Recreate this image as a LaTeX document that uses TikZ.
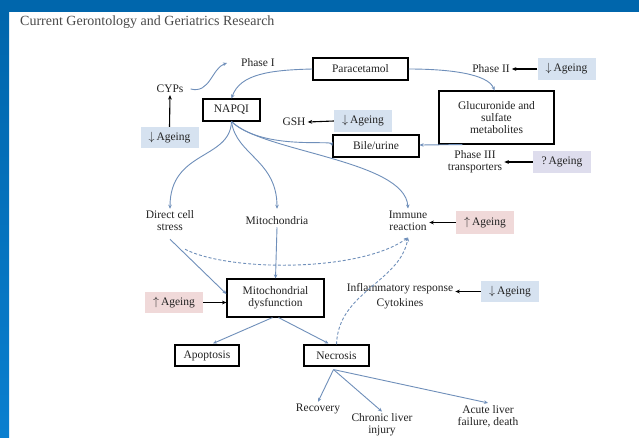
\documentclass[tikz,border=0pt]{standalone}
\usepackage{fontspec}
\setmainfont{Liberation Serif}
\usetikzlibrary{arrows.meta,calc}
\definecolor{frameblue}{HTML}{0066AC}
\definecolor{frameblue2}{HTML}{0A7FCF}
\definecolor{arrblue}{HTML}{6F8FBA}
\definecolor{agblue}{HTML}{D6E2F0}
\definecolor{agpink}{HTML}{F0D9D9}
\definecolor{aglav}{HTML}{DEDDED}
\definecolor{txt}{HTML}{222222}
\definecolor{titlegray}{HTML}{4A4A4A}
\begin{document}
\begin{tikzpicture}[x=1pt,y=-1pt,
  every node/.style={font=\fontsize{11.5}{12}\selectfont, text=txt, inner sep=2pt},
  lbl/.style={align=center},
  bx/.style={draw=black, line width=1.1pt, minimum height=22pt, align=center, inner sep=1pt},
  agbox/.style={minimum width=58pt, minimum height=22pt, inner sep=0pt},
  bluearr/.style={draw=arrblue, line width=0.9pt, -{Stealth[length=4pt,width=3.5pt]}},
  blackarr/.style={draw=black, line width=1.1pt, -{Stealth[length=4.5pt,width=3.8pt]}},
  dasharr/.style={bluearr, dash pattern=on 3pt off 2pt},
]
\useasboundingbox (0,0) rectangle (639,437);
\fill[white] (0,0) rectangle (639,437);
\fill[frameblue] (0,0) rectangle (639,12);
\shade[top color=frameblue, bottom color=frameblue2] (0,12) rectangle (9,437);

\node[anchor=west, font=\fontsize{14}{16}\selectfont, text=titlegray] (title) at (18,22) {Current Gerontology and Geriatrics Research};

% nodes
\node[lbl] (phase1) at (258,63) {Phase I};
\node[bx, minimum width=95pt] (para) at (360.5,69) {Paracetamol};
\node[bx, minimum width=57pt] (napqi) at (231.5,110) {NAPQI};
\node[lbl] (cyps) at (170,89) {CYPs};
\node[agbox, fill=agblue, minimum height=21pt] (ag1) at (169.5,137.5) {$\downarrow$\,Ageing};
\node[lbl] (phase2) at (491,69) {Phase II};
\node[agbox, fill=agblue] (ag2) at (566.5,69) {$\downarrow$\,Ageing};
\node[bx, minimum width=115pt, minimum height=53pt] (glu) at (496.5,117.5) {Glucuronide and\\sulfate\\metabolites};
\node[lbl] (gsh) at (294,122) {GSH};
\node[agbox, fill=agblue] (ag3) at (363,121) {$\downarrow$\,Ageing};
\node[bx, minimum width=86pt] (bile) at (376,146) {Bile/urine};
\node[lbl] (phase3) at (475,162) {Phase III\\transporters};
\node[agbox, fill=aglav] (ag4) at (562,162) {?\,Ageing};
\node[lbl] (dcs) at (170,221) {Direct cell\\stress};
\node[lbl] (mito) at (277,221) {Mitochondria};
\node[lbl] (immune) at (408,220.5) {Immune\\reaction};
\node[agbox, fill=agpink, minimum height=23pt] (ag5) at (485,222.5) {$\uparrow$\,Ageing};
\node[bx, minimum width=97pt, minimum height=38pt] (mitod) at (275.5,298) {Mitochondrial\\dysfunction};
\node[agbox, fill=agpink, minimum height=21pt] (ag6) at (174,302.5) {$\uparrow$\,Ageing};
\node[lbl] (infl) at (400,289) {Inflammatory response};
\node[lbl] (cyto) at (400,304) {Cytokines};
\node[agbox, fill=agblue, minimum height=21pt] (ag7) at (510,291.5) {$\downarrow$\,Ageing};
\node[bx, minimum width=64pt, minimum height=21pt] (apop) at (207,355.5) {Apoptosis};
\node[bx, minimum width=65pt, minimum height=21pt] (necr) at (336.5,355.5) {Necrosis};
\node[lbl] (recov) at (318,409) {Recovery};
\node[lbl] (chron) at (382,425) {Chronic liver\\injury};
\node[lbl] (acute) at (488,416) {Acute liver\\failure, death};

\coordinate (imin) at ($(immune.south)+(0,5)$);
\coordinate (nout) at ($(necr.south)+(-3,3)$);

% blue connectors
\draw[bluearr] ([xshift=5pt]cyps.east) .. controls (210,94) and (212,68) .. ([xshift=-12pt]phase1.west);
\draw[bluearr] (para.west) .. controls (270,70) and (240,74) .. (napqi.north);
\draw[bluearr] (para.east) .. controls (450,69) and (488,74) .. ([xshift=-2pt]glu.north);
\draw[bluearr] ($(glu.south west)+(24,0)$) -- ($(bile.east)+(0,-1)$);
\draw[bluearr] (napqi.south) .. controls (230,160) and (170,150) .. (dcs.north);
\draw[bluearr] (napqi.south) .. controls (236,155) and (277,160) .. ($(mito.north)+(0,-6)$);
\draw[bluearr] (napqi.south) .. controls (262,150) and (330,140) .. (bile.west);
\draw[bluearr] (napqi.south) .. controls (262,152) and (405,160) .. (immune.north);
\draw[bluearr] (mito.south) -- (mitod.north);
\draw[bluearr] ($(dcs.south)+(0,6)$) -- ($(mitod.west)+(0,-4)$);
\draw[dasharr] ($(dcs.south)+(15,16)$) .. controls (230,272) and (360,272) .. (imin);
\draw[dasharr] (necr.north) .. controls (338,292) and (400,282) .. (imin);
\draw[bluearr] ($(mitod.south)+(-3,0)$) -- ($(apop.north)+(6,-1)$);
\draw[bluearr] ($(mitod.south)+(3,0)$) -- ($(necr.north)+(-8,-1)$);
\draw[bluearr] (nout) -- (recov.north);
\draw[bluearr] (nout) -- (chron.north);
\draw[bluearr] (nout) -- (acute.north);

% black connectors
\draw[blackarr] (ag1.north) -- (cyps.south);
\draw[blackarr] (ag2.west) -- (phase2.east);
\draw[blackarr] (ag3.west) -- (gsh.east);
\draw[blackarr] (ag4.west) -- (ag4.west -| phase3.east);
\draw[blackarr] (ag5.west) -- (ag5.west -| immune.east);
\draw[blackarr] (ag6.east) -- (ag6.east -| mitod.west);
\draw[blackarr] (ag7.west) -- (ag7.west -| infl.east);
\end{tikzpicture}
\end{document}
